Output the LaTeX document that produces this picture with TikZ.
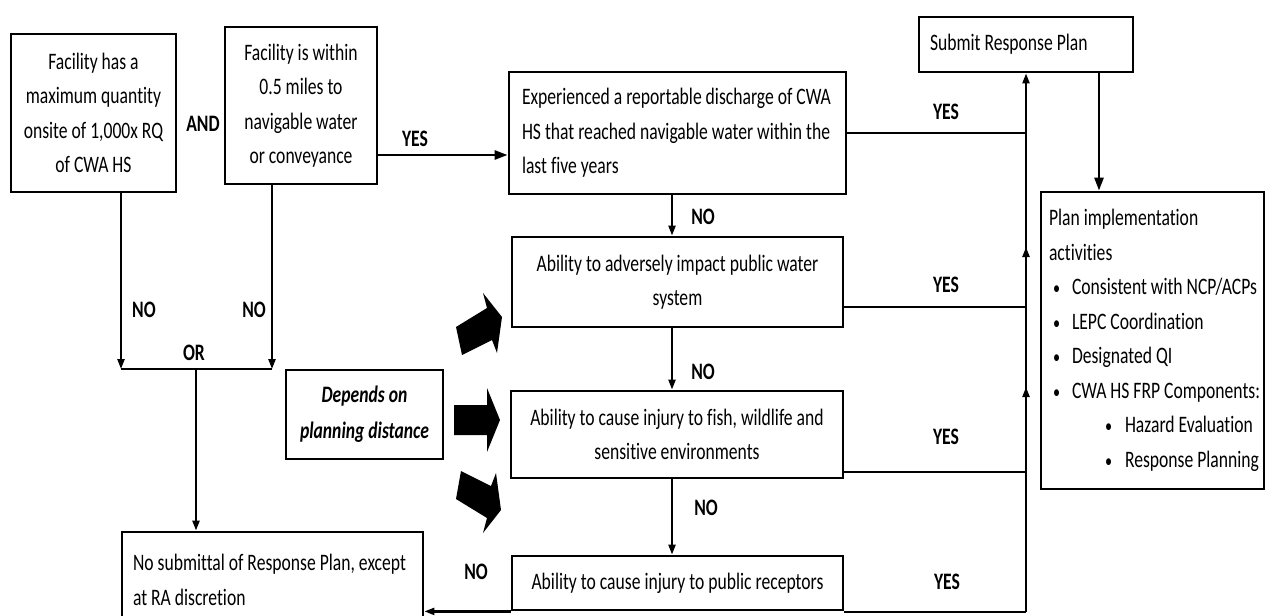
\documentclass[tikz,border=0pt]{standalone}
\usepackage{fontspec}
\setmainfont{Carlito}[FakeStretch=0.746, Ligatures=NoCommon]
\usetikzlibrary{arrows.meta,calc}
\newcommand{\bul}{{\fontsize{19}{19}\selectfont\textbullet}}
\begin{document}
\begin{tikzpicture}[x=1pt,y=-1pt,
  box/.style={draw, line width=2.8pt, inner sep=0pt, align=center,
    font=\fontsize{23.6}{34.5}\selectfont},
  lbox/.style={box, align=left},
  lbl/.style={inner sep=0pt, font=\bfseries\fontsize{23.6}{28}\selectfont},
  arr/.style={line width=2.2pt, -{Triangle[length=10pt,width=7pt]}},
  bigarr/.style={line width=2.6pt, -{Triangle[length=13pt,width=9pt]}},
  ln/.style={line width=2.6pt},
  thin/.style={line width=2.2pt}
]
\useasboundingbox (0,0) rectangle (1267,616);

% boxes
\node[box, minimum width=165pt, minimum height=158pt] (A) at (93.5,113)
  {Facility has a\\maximum quantity\\onsite of 1,000x RQ\\of CWA HS};
\node[box, minimum width=152pt, minimum height=157pt] (B) at (301,105.5)
  {Facility is within\\0.5 miles to\\navigable water\\or conveyance};
\node[lbox, text width=311pt, inner xsep=13pt, minimum height=122pt] (C) at (677.5,133)
  {\spaceskip=0pt\xspaceskip=0pt\relax
   \mbox{Experienced a reportable discharge of CWA}\\\mbox{HS that reached navigable water within the}\\last five years};
\node[box, minimum width=331pt, minimum height=90pt] (D) at (677.5,282)
  {Ability to adversely impact public water\\system};
\node[box, minimum width=332pt, minimum height=87pt] (E) at (677,434.5)
  {Ability to cause injury to fish, wildlife and\\sensitive environments};
\node[box, minimum width=331pt, minimum height=54pt] (F) at (677.5,583)
  {Ability to cause injury to public receptors};
\node[lbox, text width=279pt, inner xsep=11pt, minimum height=96pt] (N) at (272.5,580)
  {\spaceskip=0pt\xspaceskip=0pt\relax
   \mbox{No submittal of Response Plan, except}\\at RA discretion};
\node[box, minimum width=157pt, minimum height=89pt, font=\bfseries\itshape\fontsize{23.6}{36}\selectfont] (P) at (364.5,414.5)
  {Depends on\\planning distance};
\node[lbox, text width=192pt, inner xsep=11pt, minimum height=55pt] (S) at (1026,44.5)
  {\spaceskip=0pt\xspaceskip=0pt\relax Submit Response Plan};
\node[lbox, text width=207pt, inner xsep=8pt, minimum height=297pt] (I) at (1152.5,340.5)
  {\spaceskip=0pt\xspaceskip=0pt\relax
   Plan implementation\\activities\\
   \mbox{\hspace*{4pt}\makebox[19pt][l]{\bul}Consistent with NCP/ACPs}\\
   \mbox{\hspace*{4pt}\makebox[19pt][l]{\bul}LEPC Coordination}\\
   \mbox{\hspace*{4pt}\makebox[19pt][l]{\bul}Designated QI}\\
   \mbox{\hspace*{4pt}\makebox[19pt][l]{\bul}CWA HS FRP Components:}\\
   \mbox{\hspace*{56pt}\makebox[20pt][l]{\bul}Hazard Evaluation}\\
   \mbox{\hspace*{56pt}\makebox[20pt][l]{\bul}Response Planning}};

% helper coordinates
\coordinate (orL) at (121,369);
\coordinate (orR) at (272,369);
\coordinate (orM) at (196,369);
\coordinate (bc) at (0,155);
\coordinate (nx) at (672,0);
\coordinate (dy) at (0,307);
\coordinate (ey) at (0,472);
\coordinate (fy) at (0,612);
\coordinate (m1) at (0,247);
\coordinate (m1a) at (0,262);
\coordinate (m2) at (0,387);
\coordinate (m2a) at (0,402);
\coordinate (px) at (1099,0);

% left connectors
\draw[arr] (A.south -| orL) -- (orL);
\draw[arr] (B.south -| orR) -- (orR);
\draw[thin] (orL) -- (orR);
\draw[arr] (orM) -- (N.north -| orM);
\draw[bigarr] (B.east |- bc) -- (C.west |- bc);

% middle column
\draw[arr] (C.south -| nx) -- (D.north -| nx);
\draw[arr] (D.south -| nx) -- (E.north -| nx);
\draw[arr] (E.south -| nx) -- (F.north -| nx);
\draw[arr] (F.south west) -- (F.south west -| N.east);

% right side
\draw[ln] (C.east) -- (C.east -| S.south);
\draw[ln] (D.east |- dy) -- (S.south |- dy);
\draw[ln] (E.east |- ey) -- (S.south |- ey);
\draw[ln] (F.east |- fy) -- (S.south |- fy);
\draw[arr] (S.south |- fy) -- (S.south);
\draw[arr] (S.south |- m1a) -- (S.south |- m1);
\draw[arr] (S.south |- m2a) -- (S.south |- m2);
\draw[bigarr] (S.south -| px) -- (I.north -| px);

% block arrows
\fill (456,327) -- (487,308) -- (483,293) -- (502,317) -- (497,353) -- (492,340) -- (462,355) -- cycle;
\fill (454,405) -- (487,405) -- (487,388) -- (500,420) -- (487,452) -- (487,435) -- (454,435) -- cycle;
\fill (456,499) -- (487,518) -- (483,533) -- (501,510) -- (496,473) -- (491,486) -- (461,471) -- cycle;

% labels
\node[lbl] (lAND) at (203,124) {AND};
\node[lbl] (lY0) at (415,139) {YES};
\node[lbl] (lN1) at (144,310) {NO};
\node[lbl] (lN2) at (254,310) {NO};
\node[lbl] (lOR) at (194,353) {OR};
\node[lbl] (lN3) at (703,217) {NO};
\node[lbl] (lN4) at (703,372) {NO};
\node[lbl] (lN5) at (706,508) {NO};
\node[lbl] (lN6) at (476,572) {NO};
\node[lbl] (lY1) at (946,112) {YES};
\node[lbl] (lY2) at (946,285) {YES};
\node[lbl] (lY3) at (946,437) {YES};
\node[lbl] (lY4) at (947,582) {YES};
\end{tikzpicture}
\end{document}
